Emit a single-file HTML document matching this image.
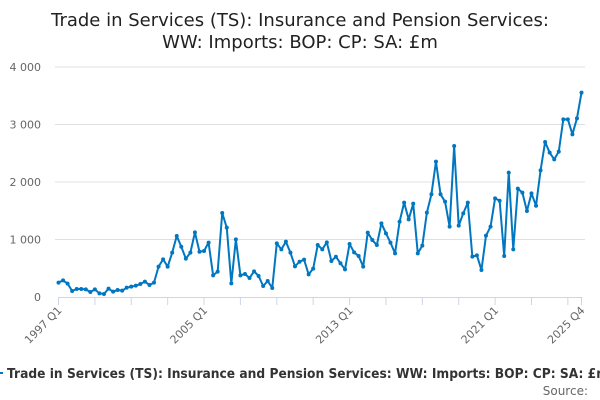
<!DOCTYPE html>
<html><head><meta charset="utf-8"><style>
html,body{margin:0;padding:0;background:#fff;width:600px;height:400px;overflow:hidden}
svg{display:block;font-family:"DejaVu Sans","Liberation Sans",sans-serif}
</style></head><body>
<svg id="chart" width="600" height="400" viewBox="0 0 600 400">
<text x="300" y="26" text-anchor="middle" font-size="18" fill="#222">Trade in Services (TS): Insurance and Pension Services:</text>
<text x="300" y="48" text-anchor="middle" font-size="18" fill="#222">WW: Imports: BOP: CP: SA: £m</text>
<g id="grid"></g>
<g id="yaxis"></g>
<g id="xaxis"></g>
<g id="series"></g>
<g>
<line x1="-6" y1="373" x2="3" y2="373" stroke="#0077c0" stroke-width="2"/>
<text x="7" y="378" font-size="13" font-weight="bold" fill="#333" textLength="602" lengthAdjust="spacingAndGlyphs">Trade in Services (TS): Insurance and Pension Services: WW: Imports: BOP: CP: SA: £m</text>
</g>
<text x="588" y="395" text-anchor="end" font-size="12" fill="#666">Source:</text>
</svg>
<script>
const values = [250,290,232,104,139,139,133,87,133,64,52,145,93,122,110,162,180,197,226,267,209,250,528,655,528,771,1061,875,667,771,1125,788,800,945,377,441,1461,1206,238,
1003,377,400,330,446,365,191,278,157,933,829,962,771,533,614,649,394,493,904,829,951,626,701,586,481,922,777,713,528,1119,991,904,1281,1107,945,759,1310,
1641,1351,1623,759,893,1467,1786,2354,1786,1658,1223,2626,1241,1455,1641,702,725,470,1067,1223,1716,1675,713,2162,829,1884,1815,1496,1803,1588,2203,2696,2510,2394,2528,3090,3090,2829,3107,3554];
const yTicks = [0,1000,2000,3000,4000];
const yTickLabels = ["0","1 000","2 000","3 000","4 000"];
const startYear = 1997;
const xLabelIdx = [0,32,64,96,115];
const NS="http://www.w3.org/2000/svg";
const X0=58.5,X1=581.5,Y0=297,Y1=67,YMAX=4000;
const n=values.length;
function xs(i){return X0+(X1-X0)*i/(n-1);}
function ys(v){return Y0-(Y0-Y1)*v/YMAX;}
function qlabel(i){return (startYear+Math.floor(i/4))+" Q"+(i%4+1);}
function mk(t,a,p){const e=document.createElementNS(NS,t);for(const k in a)e.setAttribute(k,a[k]);p.appendChild(e);return e;}
const grid=document.getElementById('grid'),ya=document.getElementById('yaxis'),xa=document.getElementById('xaxis'),se=document.getElementById('series');
yTicks.forEach((v,k)=>{
  if(v>0){const l=mk('line',{x1:55,x2:585,y1:ys(v),y2:ys(v),stroke:'#e0e0e0','stroke-width':1},grid);
  
  }
  const t=mk('text',{x:41,y:ys(v)+4,'text-anchor':'end','font-size':11,fill:'#666'},ya);
  t.textContent=yTickLabels[k];
  
  
});
const ax=mk('line',{x1:X0,x2:X1+1,y1:Y0+0.5,y2:Y0+0.5,stroke:'#ccd6eb','stroke-width':1},xa);


const tickIdx=[];for(let i=0;i<n;i+=8)tickIdx.push(i);tickIdx.push(n-1);
tickIdx.forEach(i=>{const t=mk('line',{x1:xs(i),x2:xs(i),y1:Y0,y2:Y0+8,stroke:'#ccd6eb','stroke-width':1},xa);

});
xLabelIdx.forEach(i=>{const x=xs(i)+4,y=Y0+14;
  const t=mk('text',{x:x,y:y,'text-anchor':'end','font-size':11,fill:'#666',transform:`rotate(-45 ${x} ${y})`},xa);
  t.textContent=qlabel(i);
  
  });
const pts=values.map((v,i)=>xs(i).toFixed(2)+","+ys(v).toFixed(2)).join(" ");
const pl=mk('polyline',{points:pts,fill:'none',stroke:'#0077c0','stroke-width':2,'stroke-linejoin':'round'},se);


values.forEach((v,i)=>{const c=mk('circle',{cx:xs(i),cy:ys(v),r:2,fill:'#0077c0'},se);

});
</script>
</body></html>
